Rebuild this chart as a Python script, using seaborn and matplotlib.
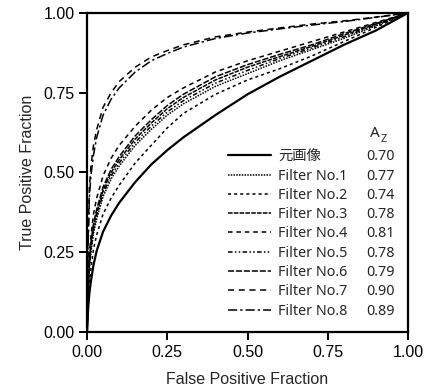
import numpy as np
import pandas as pd
import matplotlib
matplotlib.use("Agg")
import matplotlib.pyplot as plt
import seaborn as sns

# ─── Data ──────────────────────────────────────────────────
fpr = [0, 0.003, 0.007, 0.012, 0.02, 0.03, 0.05, 0.075, 0.1, 0.15,
       0.2, 0.25, 0.3, 0.4, 0.5, 0.6, 0.7, 0.8, 0.9, 1.0]

tpr_orig = [0, 0.07, 0.12, 0.16, 0.21, 0.255, 0.315, 0.365, 0.405, 0.47,
            0.525, 0.57, 0.61, 0.68, 0.745, 0.80, 0.85, 0.90, 0.945, 1.0]
tpr_f1 = [0, 0.12, 0.20, 0.25, 0.31, 0.355, 0.425, 0.48, 0.52, 0.585,
          0.635, 0.68, 0.715, 0.77, 0.81, 0.85, 0.885, 0.92, 0.96, 1.0]
tpr_f2 = [0, 0.09, 0.15, 0.20, 0.26, 0.305, 0.37, 0.42, 0.46, 0.53,
          0.585, 0.64, 0.685, 0.745, 0.79, 0.825, 0.865, 0.91, 0.955, 1.0]
tpr_f3 = [0, 0.13, 0.21, 0.27, 0.33, 0.375, 0.445, 0.50, 0.54, 0.605,
          0.655, 0.70, 0.735, 0.79, 0.83, 0.863, 0.895, 0.93, 0.965, 1.0]
tpr_f4 = [0, 0.15, 0.25, 0.30, 0.37, 0.42, 0.49, 0.545, 0.585, 0.645,
          0.695, 0.735, 0.765, 0.815, 0.85, 0.88, 0.91, 0.94, 0.97, 1.0]
tpr_f5 = [0, 0.125, 0.205, 0.26, 0.32, 0.365, 0.435, 0.49, 0.53, 0.595,
          0.645, 0.69, 0.725, 0.78, 0.82, 0.857, 0.89, 0.925, 0.962, 1.0]
tpr_f6 = [0, 0.135, 0.22, 0.28, 0.34, 0.385, 0.455, 0.51, 0.55, 0.615,
          0.665, 0.71, 0.745, 0.80, 0.838, 0.87, 0.90, 0.935, 0.967, 1.0]
tpr_f7 = [0, 0.28, 0.45, 0.52, 0.585, 0.635, 0.705, 0.75, 0.785, 0.83,
          0.862, 0.882, 0.90, 0.925, 0.94, 0.953, 0.965, 0.975, 0.987, 1.0]
tpr_f8 = [0, 0.26, 0.42, 0.49, 0.555, 0.61, 0.68, 0.73, 0.765, 0.815,
          0.85, 0.873, 0.893, 0.92, 0.937, 0.95, 0.962, 0.973, 0.986, 1.0]

names = ["元画像", "Filter No.1", "Filter No.2", "Filter No.3", "Filter No.4",
         "Filter No.5", "Filter No.6", "Filter No.7", "Filter No.8"]
az_values = ["0.70", "0.77", "0.74", "0.78", "0.81", "0.78", "0.79", "0.90", "0.89"]
curves = [tpr_orig, tpr_f1, tpr_f2, tpr_f3, tpr_f4, tpr_f5, tpr_f6, tpr_f7, tpr_f8]

ticks = [0.0, 0.25, 0.5, 0.75, 1.0]
tick_labels = ["0.00", "0.25", "0.50", "0.75", "1.00"]

# ─── Style ────────────────────────────────────────────────
styles = [
    "-",
    (0, (1, 0.8)),
    (0, (2, 2)),
    (0, (3, 0.8)),
    (0, (3, 2.5)),
    (0, (3, 1.5, 1, 1.5, 1, 1.5)),
    (0, (4, 1.2)),
    (0, (4, 3)),
    (0, (6, 2, 1.5, 2)),
]
widths = [1.6, 1.1, 1.1, 1.1, 1.1, 1.1, 1.1, 1.1, 1.1]
LEG_FONT = ["Noto Sans", "Noto Sans CJK JP", "DejaVu Sans"]

sns.set_style("ticks")
plt.rcParams["font.family"] = ["Liberation Sans", "Noto Sans CJK JP", "DejaVu Sans"]

fig = plt.figure(figsize=(4.29, 3.92), dpi=100)
ax = fig.add_axes([0.203, 0.153, 0.748, 0.814])

for tpr, name, ls, lw in zip(curves, names, styles, widths):
    sns.lineplot(x=fpr, y=tpr, ax=ax, color="black", linestyle=ls, linewidth=lw,
                 label=name, estimator=None, sort=False)

ax.set_xlim(0, 1)
ax.set_ylim(0, 1)
ax.set_xticks(ticks)
ax.set_xticklabels(tick_labels)
ax.set_yticks(ticks)
ax.set_yticklabels(tick_labels)
ax.tick_params(direction="out", length=6, width=1.4, labelsize=11.5, colors="black", pad=3)
for sp in ax.spines.values():
    sp.set_visible(True)
    sp.set_linewidth(1.6)
    sp.set_color("black")
ax.set_xlabel("False Positive Fraction", fontsize=11.5, labelpad=9)
ax.set_ylabel("True Positive Fraction", fontsize=11.5, labelpad=6)

leg = ax.legend(loc="lower left", bbox_to_anchor=(0.42, 0.024), frameon=False,
                handlelength=3.0, handletextpad=0.55, labelspacing=0.3,
                borderaxespad=0, prop={"family": LEG_FONT, "size": 10.3})

# Az column
ax.text(0.897, 0.621, "A", transform=ax.transAxes, fontsize=11, ha="center", va="center",
        family=LEG_FONT)
ax.text(0.925, 0.603, "Z", transform=ax.transAxes, fontsize=8, ha="center", va="center",
        family=LEG_FONT)
fig.canvas.draw()
inv = ax.transAxes.inverted()
for txt, val in zip(leg.get_texts(), az_values):
    bb = txt.get_window_extent()
    yc = inv.transform((0, (bb.y0 + bb.y1) / 2))[1]
    ax.text(0.913, yc, val, transform=ax.transAxes, fontsize=10.3, ha="center", va="center",
            family=LEG_FONT)

fig.savefig("out.png", dpi=100)
